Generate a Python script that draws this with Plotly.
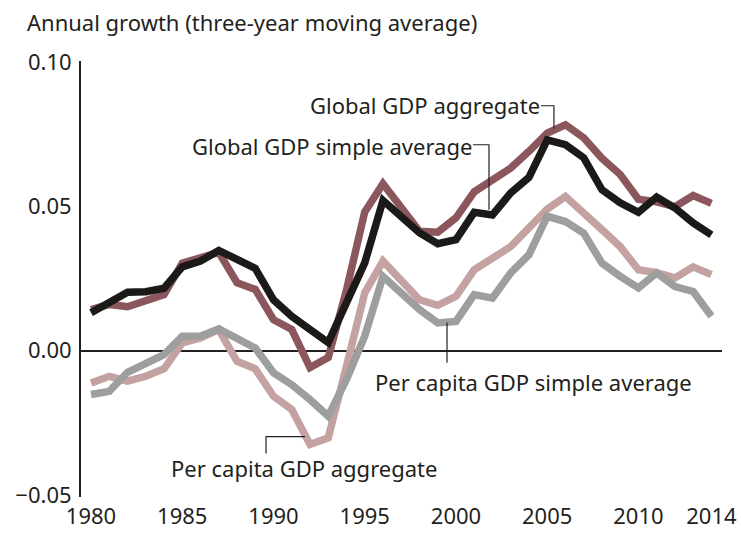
import plotly.graph_objects as go

years = list(range(1980, 2015))

global_gdp_aggregate = [
    0.0142, 0.0160, 0.0152, 0.0170, 0.0194, 0.0303, 0.0320, 0.0340, 0.0235, 0.0212,
    0.0107, 0.0073, -0.0059, -0.0024, 0.0210, 0.0480, 0.0578, 0.0495, 0.0413, 0.0410,
    0.0460, 0.0550, 0.0592, 0.0632, 0.0690, 0.0753, 0.0782, 0.0737, 0.0666, 0.0610,
    0.0524, 0.0515, 0.0498, 0.0537, 0.0510,
]
global_gdp_simple = [
    0.0131, 0.0163, 0.0202, 0.0204, 0.0216, 0.0290, 0.0310, 0.0347, 0.0315, 0.0285,
    0.0176, 0.0119, 0.0073, 0.0028, 0.0166, 0.0304, 0.0520, 0.0460, 0.0408, 0.0370,
    0.0384, 0.0479, 0.0470, 0.0546, 0.0600, 0.0730, 0.0713, 0.0668, 0.0557, 0.0512,
    0.0479, 0.0532, 0.0494, 0.0442, 0.0401,
]
per_capita_aggregate = [
    -0.0112, -0.0089, -0.0106, -0.0089, -0.0063, 0.0027, 0.0044, 0.0073, -0.0037, -0.0063,
    -0.0158, -0.0204, -0.0325, -0.0302, -0.0054, 0.0200, 0.0310, 0.0246, 0.0176, 0.0157,
    0.0188, 0.0280, 0.0320, 0.0360, 0.0425, 0.0490, 0.0534, 0.0480, 0.0419, 0.0360,
    0.0280, 0.0270, 0.0252, 0.0290, 0.0263,
]
per_capita_simple = [
    -0.0152, -0.0141, -0.0075, -0.0048, -0.0014, 0.0050, 0.0050, 0.0075, 0.0044, 0.0009,
    -0.0077, -0.0118, -0.0170, -0.0227, -0.0100, 0.0050, 0.0257, 0.0200, 0.0142, 0.0096,
    0.0101, 0.0194, 0.0182, 0.0269, 0.0332, 0.0465, 0.0447, 0.0407, 0.0303, 0.0257,
    0.0217, 0.0269, 0.0222, 0.0205, 0.0119,
]

x_ticks = [1980, 1985, 1990, 1995, 2000, 2005, 2010, 2014]
y_ticks = [-0.05, 0.0, 0.05, 0.10]

FONT = "Noto Sans"
FS = 22
TEXT = "#231f20"

series = [
    ("Per capita GDP aggregate", per_capita_aggregate, "#c4a2a2"),
    ("Per capita GDP simple average", per_capita_simple, "#9e9e9e"),
    ("Global GDP aggregate", global_gdp_aggregate, "#8c575c"),
    ("Global GDP simple average", global_gdp_simple, "#1c1a19"),
]

fig = go.Figure()
for name, vals, color in series:
    fig.add_trace(go.Scatter(x=years, y=vals, mode="lines", name=name,
                             line=dict(color=color, width=7.5)))

# labels with leader lines
labels = [
    ("Global GDP aggregate", 2004.55, 0.0851, "right"),
    ("Global GDP simple average", 2000.82, 0.0709, "right"),
    ("Per capita GDP simple average", 1995.62, -0.0107, "left"),
    ("Per capita GDP aggregate", 1984.44, -0.0405, "left"),
]
for text, lx, ly, anchor in labels:
    fig.add_annotation(x=lx, y=ly, text=text, showarrow=False, xanchor=anchor,
                       yanchor="middle", xshift=3 if anchor == "right" else -3,
                       font=dict(family=FONT, size=FS, color=TEXT))

leaders = [
    [(2004.66, 0.0848), (2005.37, 0.0848), (2005.37, 0.0768)],
    [(2000.93, 0.0713), (2001.81, 0.0713), (2001.81, 0.0488)],
    [(1999.51, 0.0097), (1999.51, -0.0042)],
    [(1991.73, -0.0298), (1989.59, -0.0298), (1989.59, -0.0356)],
]
for pts in leaders:
    path = "M " + " L ".join(f"{px},{py}" for px, py in pts)
    fig.add_shape(type="path", path=path, xref="x", yref="y",
                  line=dict(color=TEXT, width=1.2))

fig.add_annotation(x=-0.0827, y=1.089, xref="paper", yref="paper",
                   text="Annual growth (three-year moving average)", showarrow=False,
                   xanchor="left", yanchor="middle", xshift=-3,
                   font=dict(family=FONT, size=FS, color=TEXT))

fig.update_layout(
    width=741, height=533,
    margin=dict(l=81, r=19, t=61, b=36),
    paper_bgcolor="white", plot_bgcolor="white",
    showlegend=False,
    font=dict(family=FONT, size=FS, color=TEXT),
)
fig.update_xaxes(range=[1979.45, 2014.58], tickvals=x_ticks, showgrid=False,
                 zeroline=False, showline=False, ticks="", automargin=False,
                 ticklabelstandoff=4)
fig.update_yaxes(range=[-0.0507, 0.1003], tickvals=y_ticks, tickformat=".2f",
                 showgrid=False, zeroline=True, zerolinecolor=TEXT, zerolinewidth=2,
                 showline=True, linecolor=TEXT, linewidth=2, ticks="",
                 automargin=False, ticklabelstandoff=3)

fig.write_html("out.html", config={"displayModeBar": False},
               post_script="document.body.style.margin='0';")
